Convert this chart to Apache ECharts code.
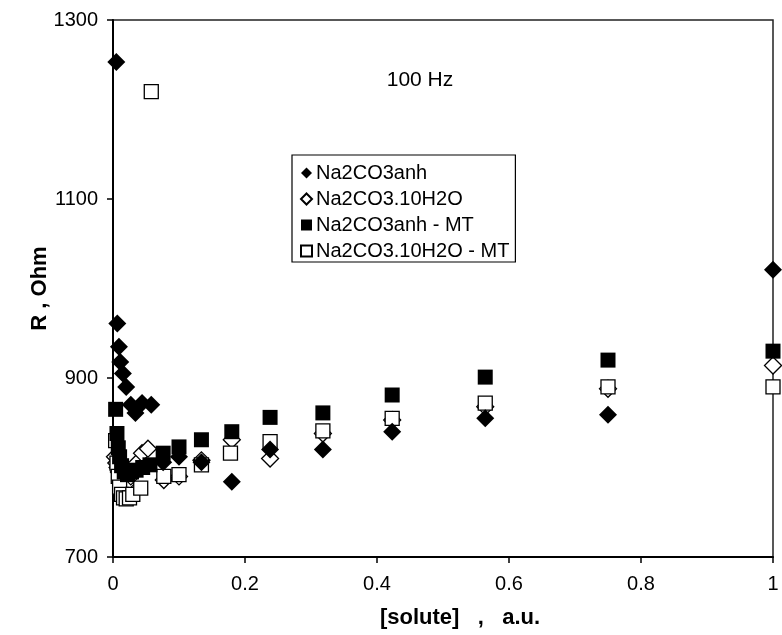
<!DOCTYPE html>
<html>
<head>
<meta charset="utf-8">
<script src="https://cdn.jsdelivr.net/npm/echarts@6/dist/echarts.min.js"></script>
<style>
html,body{margin:0;padding:0;background:#fff;}
#chart{width:782px;height:635px;}
</style>
</head>
<body>
<div id="chart"></div>
<script>
// Series names
const SERIES_NAMES = ['Na2CO3anh', 'Na2CO3.10H2O', 'Na2CO3anh - MT', 'Na2CO3.10H2O - MT'];

// [solute] (a.u.) , R (Ohm)
const anh = [
  [0.005,1253],[0.0065,961],[0.009,935],[0.011,918],[0.015,905],[0.02,890],
  [0.027,870],[0.034,861],[0.044,872],[0.058,870],[0.076,806],[0.1,812],
  [0.134,806],[0.18,784],[0.238,820],[0.318,820],[0.423,840],[0.564,855],
  [0.75,859],[1.0,1021]
];
const hydr = [
  [0.003,812],[0.005,805],[0.007,800],[0.009,795],[0.012,790],[0.015,785],
  [0.02,782],[0.027,790],[0.036,805],[0.044,816],[0.053,821],[0.077,786],
  [0.1,790],[0.134,808],[0.18,831],[0.238,810],[0.318,838],[0.423,853],
  [0.564,868],[0.75,888],[1.0,914]
];
const anhMT = [
  [0.004,865],[0.006,838],[0.008,822],[0.01,812],[0.013,802],[0.017,795],
  [0.022,792],[0.028,795],[0.035,797],[0.045,800],[0.056,803],[0.076,816],
  [0.1,823],[0.134,831],[0.18,840],[0.238,856],[0.318,861],[0.423,881],
  [0.564,901],[0.75,920],[1.0,930]
];
const hydrMT = [
  [0.004,830],[0.006,805],[0.008,790],[0.01,778],[0.013,770],[0.016,766],
  [0.02,765],[0.025,766],[0.03,770],[0.042,777],[0.058,1220],[0.077,790],
  [0.1,792],[0.134,803],[0.178,816],[0.238,829],[0.318,841],[0.423,855],
  [0.564,872],[0.75,890],[1.0,890]
];

const X_MIN = 0, X_MAX = 1, X_STEP = 0.2;
const Y_MIN = 700, Y_MAX = 1300, Y_STEP = 200;

const FONT = '"Liberation Sans", Arial, sans-serif';

const chart = echarts.init(document.getElementById('chart'), null, {renderer:'canvas'});
chart.setOption({
  animation: false,
  backgroundColor: '#fff',
  grid: {left: 113, right: 9, top: 20, bottom: 78, show: true, borderColor: '#222', borderWidth: 1.5},
  xAxis: {
    type: 'value', min: X_MIN, max: X_MAX, interval: X_STEP,
    name: '[solute]   ,   a.u.', nameLocation: 'middle', nameGap: 50, nameMoveOverlap: false,
    nameTextStyle: {fontFamily: FONT, fontSize: 22, fontWeight: 'bold', color: '#000', padding: [0,0,0,34]},
    axisLine: {show: true, lineStyle: {color: '#000', width: 2}},
    axisTick: {show: true, inside: false, length: 6, lineStyle: {color: '#000', width: 1.5}},
    axisLabel: {fontFamily: FONT, fontSize: 20, color: '#000', margin: 17,
                formatter: v => String(Math.round(v * 10) / 10)},
    splitLine: {show: false}
  },
  yAxis: {
    type: 'value', min: Y_MIN, max: Y_MAX, interval: Y_STEP,
    name: 'R , Ohm', nameLocation: 'middle', nameGap: 62, nameRotate: 90, nameMoveOverlap: false,
    nameTextStyle: {fontFamily: FONT, fontSize: 22, fontWeight: 'bold', color: '#000'},
    axisLine: {show: true, lineStyle: {color: '#000', width: 2}},
    axisTick: {show: true, inside: false, length: 6, lineStyle: {color: '#000', width: 1.5}},
    axisLabel: {fontFamily: FONT, fontSize: 20, color: '#000', margin: 15,
                formatter: v => String(v)},
    splitLine: {show: false}
  },
  legend: {
    orient: 'vertical', left: 292, top: 155,
    data: SERIES_NAMES,
    itemWidth: 11, itemHeight: 11, itemGap: 6,
    padding: [8, 6, 1, 8],
    borderColor: '#000', borderWidth: 1.2,
    backgroundColor: '#fff',
    textStyle: {fontFamily: FONT, fontSize: 20, color: '#000', padding: [0,0,0,-1]},
    selectedMode: false
  },
  graphic: [{
    type: 'text', x: 420, y: 80, silent: true,
    style: {text: '100 Hz', font: '21px "Liberation Sans", Arial, sans-serif', fill: '#000', textAlign: 'center', textVerticalAlign: 'middle'}
  }],
  series: [
    {name: SERIES_NAMES[0], type: 'scatter', data: anh, symbol: 'diamond', symbolSize: 18, z: 4,
     itemStyle: {color: '#000', borderColor: '#000', borderWidth: 0, opacity: 1}, emphasis: {disabled: true}},
    {name: SERIES_NAMES[1], type: 'scatter', data: hydr, symbol: 'diamond', symbolSize: 17, z: 2,
     itemStyle: {color: '#fff', borderColor: '#000', borderWidth: 1.3, opacity: 1}, emphasis: {disabled: true}},
    {name: SERIES_NAMES[2], type: 'scatter', data: anhMT, symbol: 'rect', symbolSize: 15, z: 5,
     itemStyle: {color: '#000', borderColor: '#000', borderWidth: 0, opacity: 1}, emphasis: {disabled: true}},
    {name: SERIES_NAMES[3], type: 'scatter', data: hydrMT, symbol: 'rect', symbolSize: 14, z: 3,
     itemStyle: {color: '#fff', borderColor: '#000', borderWidth: 1.3, opacity: 1}, emphasis: {disabled: true}}
  ]
});
</script>
</body>
</html>
